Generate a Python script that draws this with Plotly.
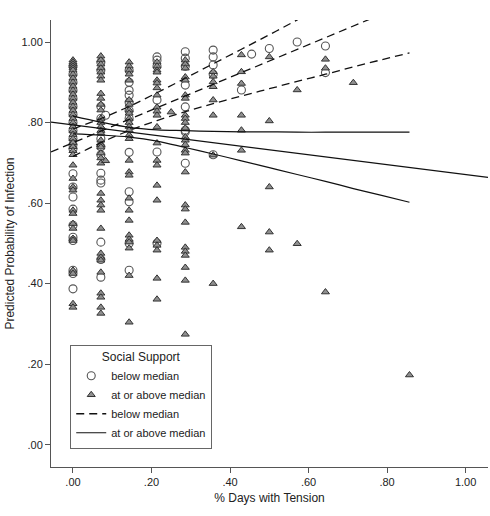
import plotly.graph_objects as go

# tension columns (share of days), one y-list per column
CIRC_X = [0.000, 0.071, 0.083, 0.143, 0.214, 0.286, 0.357, 0.429, 0.455, 0.500, 0.571, 0.643]
CIRC_Y = [
    [0.94, 0.92, 0.90, 0.88, 0.86, 0.84, 0.82, 0.80, 0.78, 0.76, 0.745, 0.735,
     0.673, 0.640, 0.615, 0.585, 0.545, 0.515, 0.507, 0.433, 0.425, 0.387],
    [0.95, 0.93, 0.84, 0.81, 0.76, 0.74, 0.72, 0.674, 0.657, 0.650, 0.503, 0.460, 0.416],
    [0.818],
    [0.93, 0.90, 0.88, 0.868, 0.85, 0.83, 0.81, 0.726, 0.628, 0.603, 0.50, 0.433],
    [0.963, 0.955, 0.94, 0.856, 0.727, 0.50],
    [0.976, 0.96, 0.94, 0.893, 0.839, 0.781, 0.777, 0.699],
    [0.98, 0.963, 0.943, 0.92, 0.72],
    [0.881],
    [0.970],
    [0.984],
    [1.000],
    [0.990, 0.924],
]

TRI_X = [0.000, 0.071, 0.083, 0.143, 0.214, 0.250, 0.286, 0.357, 0.429, 0.500,
         0.571, 0.643, 0.714, 0.857]
TRI_Y = [
    [0.955, 0.95, 0.945, 0.94, 0.935, 0.93, 0.92, 0.91, 0.90, 0.89, 0.88, 0.87, 0.86,
     0.85, 0.84, 0.83, 0.82, 0.81, 0.80, 0.79, 0.78, 0.77, 0.76, 0.75, 0.74, 0.73,
     0.72, 0.694, 0.661, 0.640, 0.632, 0.582, 0.574, 0.549, 0.537, 0.512, 0.507,
     0.433, 0.425, 0.350, 0.341],
    [0.965, 0.955, 0.945, 0.935, 0.925, 0.915, 0.905, 0.872, 0.86, 0.845, 0.831,
     0.81, 0.80, 0.79, 0.78, 0.774, 0.756, 0.745, 0.739, 0.724, 0.712, 0.699,
     0.624, 0.607, 0.595, 0.582, 0.537, 0.475, 0.465, 0.458, 0.428, 0.376, 0.366,
     0.341, 0.326],
    [0.705],
    [0.95, 0.94, 0.93, 0.92, 0.905, 0.856, 0.845, 0.831, 0.823, 0.81, 0.80, 0.79,
     0.781, 0.769, 0.76, 0.706, 0.677, 0.669, 0.612, 0.582, 0.557, 0.52, 0.51,
     0.503, 0.488, 0.42, 0.304],
    [0.95, 0.94, 0.93, 0.925, 0.905, 0.898, 0.886, 0.868, 0.838, 0.828, 0.818,
     0.789, 0.749, 0.706, 0.694, 0.644, 0.607, 0.507, 0.495, 0.483, 0.413, 0.361],
    [0.826],
    [0.955, 0.945, 0.935, 0.913, 0.905, 0.868, 0.86, 0.818, 0.81, 0.80, 0.786,
     0.764, 0.756, 0.745, 0.731, 0.724, 0.677, 0.595, 0.585, 0.552, 0.49, 0.48,
     0.47, 0.44, 0.408, 0.274],
    [0.926, 0.915, 0.901, 0.889, 0.856, 0.818, 0.719, 0.400],
    [0.968, 0.926, 0.897, 0.818, 0.781, 0.731, 0.541],
    [0.963, 0.804, 0.640, 0.528, 0.483],
    [0.881, 0.499],
    [0.957, 0.935, 0.379],
    [0.899],
    [0.173],
]

# fit lines run across the whole axis
FIT_X = [-0.056, 1.057]
FIT_BELOW = [0.727, 1.179]
FIT_ABOVE = [0.801, 0.664]

# confidence bands, read along the tension columns
CI_X = [0.000, 0.071, 0.143, 0.214, 0.286, 0.357, 0.429, 0.500, 0.571, 0.643, 0.714, 0.786, 0.857]
CI_BELOW_HI = [0.784, 0.810, 0.840, 0.874, 0.910, 0.946, 0.982, 1.018, 1.055, 1.094, 1.134, 1.175, 1.215]
CI_BELOW_LO = [0.716, 0.750, 0.780, 0.805, 0.827, 0.847, 0.866, 0.884, 0.902, 0.920, 0.938, 0.956, 0.973]
CI_ABOVE_HI = [0.816, 0.801, 0.788, 0.782, 0.780, 0.778, 0.777, 0.777, 0.776, 0.776, 0.776, 0.776, 0.776]
CI_ABOVE_LO = [0.772, 0.769, 0.764, 0.754, 0.738, 0.722, 0.705, 0.688, 0.671, 0.654, 0.636, 0.619, 0.602]

TICKS = [0.0, 0.2, 0.4, 0.6, 0.8, 1.0]
TICK_TEXT = [".00", ".20", ".40", ".60", ".80", "1.00"]


def flatten(cols, ys):
    xs, vs = [], []
    for x, col in zip(cols, ys):
        xs += [x] * len(col)
        vs += col
    return xs, vs


FONT = "Liberation Sans, Arial, sans-serif"
INK = "#222222"

fig = go.Figure()

cx, cy = flatten(CIRC_X, CIRC_Y)
fig.add_trace(go.Scatter(
    x=cx, y=cy, mode="markers", name="below median",
    marker=dict(symbol="circle-open", size=8, color="#555555", line=dict(width=1.1)),
))
tx, ty = flatten(TRI_X, TRI_Y)
fig.add_trace(go.Scatter(
    x=tx, y=ty, mode="markers", name="at or above median",
    marker=dict(symbol="triangle-up", size=7, color="#8f8f8f",
                line=dict(color="#333333", width=1)),
))

dash = dict(color="#111111", width=1.3, dash="8px,5px")
solid = dict(color="#111111", width=1.2)

fig.add_trace(go.Scatter(x=FIT_X, y=FIT_BELOW, mode="lines", line=dash,
                         name="below median", legendgroup="lb"))
fig.add_trace(go.Scatter(x=CI_X, y=CI_BELOW_HI, mode="lines", line=dict(dash, shape="spline"),
                         showlegend=False, legendgroup="lb"))
fig.add_trace(go.Scatter(x=CI_X, y=CI_BELOW_LO, mode="lines", line=dict(dash, shape="spline"),
                         showlegend=False, legendgroup="lb"))

fig.add_trace(go.Scatter(x=FIT_X, y=FIT_ABOVE, mode="lines", line=solid,
                         name="at or above median", legendgroup="la"))
fig.add_trace(go.Scatter(x=CI_X, y=CI_ABOVE_HI, mode="lines", line=dict(solid, shape="spline"),
                         showlegend=False, legendgroup="la"))
fig.add_trace(go.Scatter(x=CI_X, y=CI_ABOVE_LO, mode="lines", line=dict(solid, shape="spline"),
                         showlegend=False, legendgroup="la"))

axis_common = dict(
    showgrid=False, zeroline=False, showline=True, linecolor="#555555", linewidth=1,
    ticks="outside", ticklen=5, tickcolor="#555555",
    tickvals=TICKS, ticktext=TICK_TEXT,
    tickfont=dict(family=FONT, size=11, color=INK),
)

fig.update_layout(
    width=490, height=516,
    margin=dict(l=51, r=2, t=20, b=49),
    paper_bgcolor="white", plot_bgcolor="white",
    font=dict(family=FONT, size=11, color=INK),
    xaxis=dict(axis_common, range=[-0.056, 1.057],
               title=dict(text="% Days with Tension", font=dict(size=12), standoff=6)),
    yaxis=dict(axis_common, range=[-0.0555, 1.0547],
               title=dict(text="Predicted Probability of Infection", font=dict(size=12), standoff=4)),
    legend=dict(
        x=0.044, y=0.041, xanchor="left", yanchor="bottom",
        bgcolor="white", bordercolor="#666666", borderwidth=1,
        title=dict(text="Social Support", side="top center", font=dict(size=12)),
        font=dict(size=11), itemwidth=30, tracegroupgap=0,
    ),
)

# page body has a default 8px margin; drop it so the figure sits at the window corner
fig.write_html("out.html", config={"displayModeBar": False},
               post_script="document.body.style.margin='0';")
